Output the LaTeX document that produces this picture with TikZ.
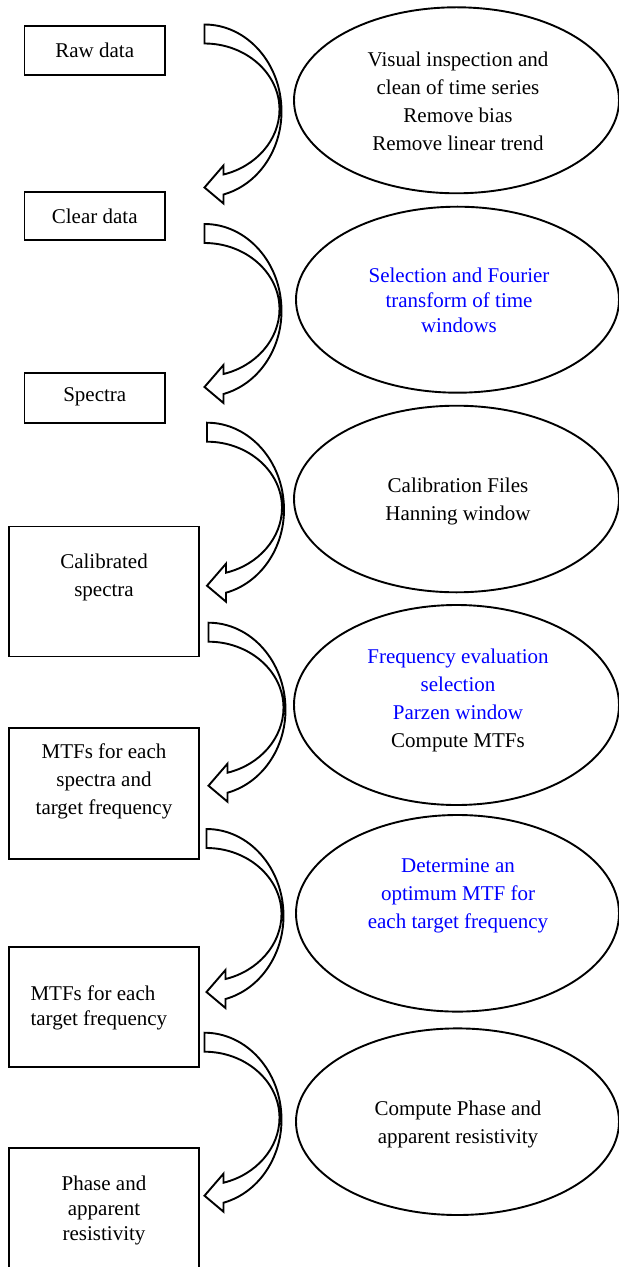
\documentclass[tikz,border=0pt]{standalone}
\usepackage{fontspec}
\usepackage{xcolor}
\usetikzlibrary{shapes.geometric}
\setmainfont{Liberation Serif}

\begin{document}
\begin{tikzpicture}[x=0.5pt,y=-0.5pt,line width=0.95pt,
        box/.style={draw,rectangle,inner sep=0pt},
        stage/.style={draw,ellipse,inner sep=0pt},
        txt/.style={align=center,inner sep=0pt,font=\fontsize{10.5pt}{14pt}\selectfont},
        tight/.style={font=\fontsize{10.5pt}{12.5pt}\selectfont}]
        \useasboundingbox (0,0) rectangle (619,1267);
        \clip (0,0) rectangle (619,1267);
        % boxes on the left
        \node[box,minimum width=70.25pt,minimum height=24.35pt](raw) at (94.75,50.35) {};
        \node[box,minimum width=70.25pt,minimum height=24.15pt](clear) at (94.75,215.85) {};
        \node[box,minimum width=70.25pt,minimum height=24.7pt](spectra) at (94.75,398) {};
        \node[box,minimum width=95.35pt,minimum height=65pt](calib) at (104,591.5) {};
        \node[box,minimum width=95.35pt,minimum height=65.5pt](mtfs) at (104,793.8) {};
        \node[box,minimum width=95.35pt,minimum height=60.3pt](mtft) at (104,1007) {};
        \node[box,minimum width=95.35pt,minimum height=70.7pt](phase) at (104,1219) {};
        \node[txt](rawtxt) at (94.75,50) {Raw data};
        \node[txt](cleartxt) at (94.75,216) {Clear data};
        \node[txt](spectratxt) at (94.75,397) {Spectra};
        \node[txt](calibtxt) at (104,577.5) {Calibrated\\spectra};
        \node[txt](mtfstxt) at (104,781.7) {MTFs for each\\spectra and\\target frequency};
        \node[txt,tight,align=left,anchor=west](mtfttxt) at (29.6,1008) {MTFs for each\\target frequency};
        \node[txt,tight](phasetxt) at (104,1210) {Phase and\\apparent\\resistivity};
        % ellipses on the right
        \node[stage,minimum width=162.5pt,minimum height=93pt](inspect) at (456.5,100.3) {};
        \node[stage,minimum width=161.5pt,minimum height=93pt](fourier) at (457.5,299.7) {};
        \node[stage,minimum width=162.5pt,minimum height=93.3pt](calfiles) at (456.5,499) {};
        \node[stage,minimum width=162.5pt,minimum height=100pt](freqsel) at (456.5,705) {};
        \node[stage,minimum width=161.5pt,minimum height=98.3pt](optimum) at (457.5,913.3) {};
        \node[stage,minimum width=161.5pt,minimum height=93.3pt](resist) at (457.5,1121.7) {};
        \node[txt](inspecttxt) at (458,101.3) {Visual inspection and\\clean of time series\\Remove bias\\Remove linear trend};
        \node[txt,tight,text=blue](fouriertxt) at (459,300.7) {Selection and Fourier\\transform of time\\windows};
        \node[txt](calfilestxt) at (458,501.5) {Calibration Files\\Hanning window};
        \node[txt](freqseltxt) at (458,700.8) {\textcolor{blue}{Frequency evaluation}\\\textcolor{blue}{selection}\\\textcolor{blue}{Parzen window}\\Compute MTFs};
        \node[txt,text=blue](optimumtxt) at (458,896) {Determine an\\optimum MTF for\\each target frequency};
        \node[txt](resisttxt) at (458,1124) {Compute Phase and\\apparent resistivity};
        % curved block arrows
        \coordinate(t1) at (204.5,24.5);
        \coordinate(t2) at (204.5,224);
        \coordinate(t3) at (207,422.7);
        \coordinate(t4) at (208.5,622.7);
        \coordinate(t5) at (206.5,829);
        \coordinate(t6) at (204.5,1032.7);
        \foreach \t in {t1,t2,t3,t4,t5,t6}
            \draw[shift={(\t)},line join=miter,fill=white] (0,0) .. controls (42.5,0) and (77,39) .. (77,87)
                .. controls (77,126.2) and (53.1,160.4) .. (19,170) -- (19,179) -- (0,163) -- (19,141) -- (19,150)
                .. controls (51.4,142.1) and (75,115.5) .. (75,85)
                .. controls (75,48.5) and (40.9,19) .. (0,19) -- cycle;
\end{tikzpicture}
\end{document}
